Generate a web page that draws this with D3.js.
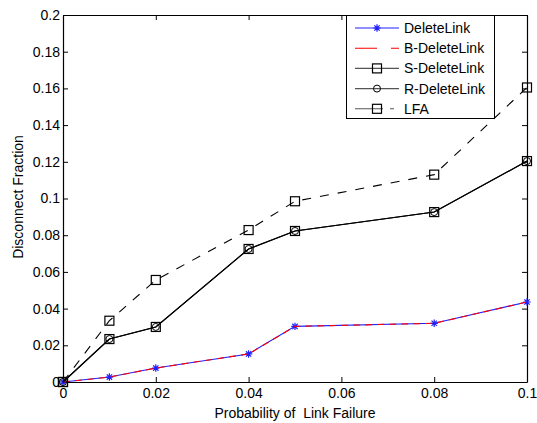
<!DOCTYPE html>
<html>
<head>
<meta charset="utf-8">
<script src="https://cdn.jsdelivr.net/npm/d3@7"></script>
<style>
body { margin: 0; background: #fff; }
text { font-family: "Liberation Sans", Arial, sans-serif; white-space: pre; }
</style>
</head>
<body>
<div id="chart"></div>
<script>
const probs = [0, 0.01, 0.02, 0.04, 0.05, 0.08, 0.1]
const deleteLink = [0, 0.0027, 0.0076, 0.0153, 0.0303, 0.0320, 0.0436]
const bDeleteLink = [0, 0.0027, 0.0076, 0.0153, 0.0303, 0.0320, 0.0436]
const sDeleteLink = [0, 0.0234, 0.0300, 0.0725, 0.0823, 0.0926, 0.1204]
const rDeleteLink = [0, 0.0234, 0.0300, 0.0725, 0.0823, 0.0926, 0.1204]
const lfa = [0, 0.0334, 0.0556, 0.0828, 0.0985, 0.1130, 0.1605]
const xTicks = [0, 0.02, 0.04, 0.06, 0.08, 0.1]
const yTicks = [0, 0.02, 0.04, 0.06, 0.08, 0.1, 0.12, 0.14, 0.16, 0.18, 0.2]

const width = 537, height = 423
const m = {left: 63, right: 10, top: 15, bottom: 41}

let svg = d3.select('#chart').append('svg')
.attr('width', width)
.attr('height', height)

let x = d3.scaleLinear().domain([0, 0.1]).range([m.left, width - m.right])
let y = d3.scaleLinear().domain([0, 0.2]).range([height - m.bottom, m.top])

const fmt = d => d === 0 ? '0' : String(+d.toFixed(2))

// axes, ticks pointing inward on all four sides
svg.append('g')
.attr('transform', `translate(0,${y(0)})`)
.call(d3.axisBottom(x).tickValues(xTicks).tickFormat(fmt).tickSizeInner(-5).tickSizeOuter(0).tickPadding(6))
svg.append('g')
.attr('transform', `translate(0,${y(0.2)})`)
.call(d3.axisTop(x).tickValues(xTicks).tickFormat('').tickSizeInner(-5).tickSizeOuter(0))
svg.append('g')
.attr('transform', `translate(${x(0)},0)`)
.call(d3.axisLeft(y).tickValues(yTicks).tickFormat(fmt).tickSizeInner(-5).tickSizeOuter(0).tickPadding(3))
svg.append('g')
.attr('transform', `translate(${x(0.1)},0)`)
.call(d3.axisRight(y).tickValues(yTicks).tickFormat('').tickSizeInner(-5).tickSizeOuter(0))

svg.selectAll('.domain').attr('stroke', '#000').attr('stroke-width', 1.2)
svg.selectAll('.tick line').attr('stroke', '#000')
svg.selectAll('.tick text').attr('font-size', 14).attr('fill', '#000')

svg.append('text')
.attr('x', (x(0) + x(0.1)) / 2).attr('y', 418)
.attr('text-anchor', 'middle').attr('font-size', 14)
.text('Probability of  Link Failure')

svg.append('text')
.attr('transform', 'translate(23,197) rotate(-90)')
.attr('text-anchor', 'middle').attr('font-size', 14)
.text('Disconnect Fraction')

const series = [
  {name: 'DeleteLink', values: deleteLink, color: '#2020ff', dash: null, marker: 'star'},
  {name: 'B-DeleteLink', values: bDeleteLink, color: '#ff0000', dash: '7,5', marker: null},
  {name: 'S-DeleteLink', values: sDeleteLink, color: '#000', dash: null, marker: 'square'},
  {name: 'R-DeleteLink', values: rDeleteLink, color: '#000', dash: null, marker: 'circle'},
  {name: 'LFA', values: lfa, color: '#000', dash: '9,9', marker: 'square'}
]

let line = d3.line().x(d => x(d[0])).y(d => y(d[1]))

// asterisk symbol with extra diagonals
d3.symbolAsterisk = {
  draw(ctx, size) {
    const r = Math.sqrt(size) / 2
    const a = r * 0.72
    ctx.moveTo(0, -r); ctx.lineTo(0, r)
    ctx.moveTo(-r, 0); ctx.lineTo(r, 0)
    ctx.moveTo(-a, -a); ctx.lineTo(a, a)
    ctx.moveTo(-a, a); ctx.lineTo(a, -a)
  }
}

function drawMarker(g, type, cx, cy, color) {
  if (type === 'square') {
    g.append('rect').attr('x', cx - 4.5).attr('y', cy - 4.5).attr('width', 9).attr('height', 9)
    .attr('fill', 'none').attr('stroke', color).attr('stroke-width', 1.2)
  } else if (type === 'circle') {
    g.append('circle').attr('cx', cx).attr('cy', cy).attr('r', 3.5)
    .attr('fill', 'none').attr('stroke', color).attr('stroke-width', 1)
  } else if (type === 'star') {
    g.append('path')
    .attr('d', d3.symbol(d3.symbolAsterisk, 55)())
    .attr('transform', `translate(${cx},${cy})`)
    .attr('fill', 'none').attr('stroke', color).attr('stroke-width', 1.2)
  }
}

let plot = svg.append('g')
series.forEach(s => {
  let pts = probs.map((p, i) => [p, s.values[i]])
  plot.append('path')
  .datum(pts)
  .attr('d', line)
  .attr('fill', 'none')
  .attr('stroke', s.color)
  .attr('stroke-width', 1.1)
  .attr('stroke-dasharray', s.dash)
  if (s.marker) pts.forEach(p => drawMarker(plot, s.marker, x(p[0]), y(p[1]), s.color))
})

// legend
let legend = svg.append('g')
legend.append('rect')
.attr('x', 346.5).attr('y', 15.5).attr('width', 148).attr('height', 103)
.attr('fill', '#fff').attr('stroke', '#000').attr('stroke-width', 1)

series.forEach((s, i) => {
  let ly = 28 + i * 20.2
  legend.append('line')
  .attr('x1', 355).attr('x2', 399).attr('y1', ly).attr('y2', ly)
  .attr('stroke', s.color === '#000' ? '#555' : s.color)
  .attr('stroke-width', 1.1)
  .attr('stroke-dasharray', s.dash ? (s.name === 'LFA' ? '28,7,4' : '22,14,8') : null)
  if (s.marker) drawMarker(legend, s.marker, 377, ly, s.color)
  legend.append('text')
  .attr('x', 404).attr('y', ly + 5)
  .attr('font-size', 14)
  .text(s.name)
})
</script>
</body>
</html>
